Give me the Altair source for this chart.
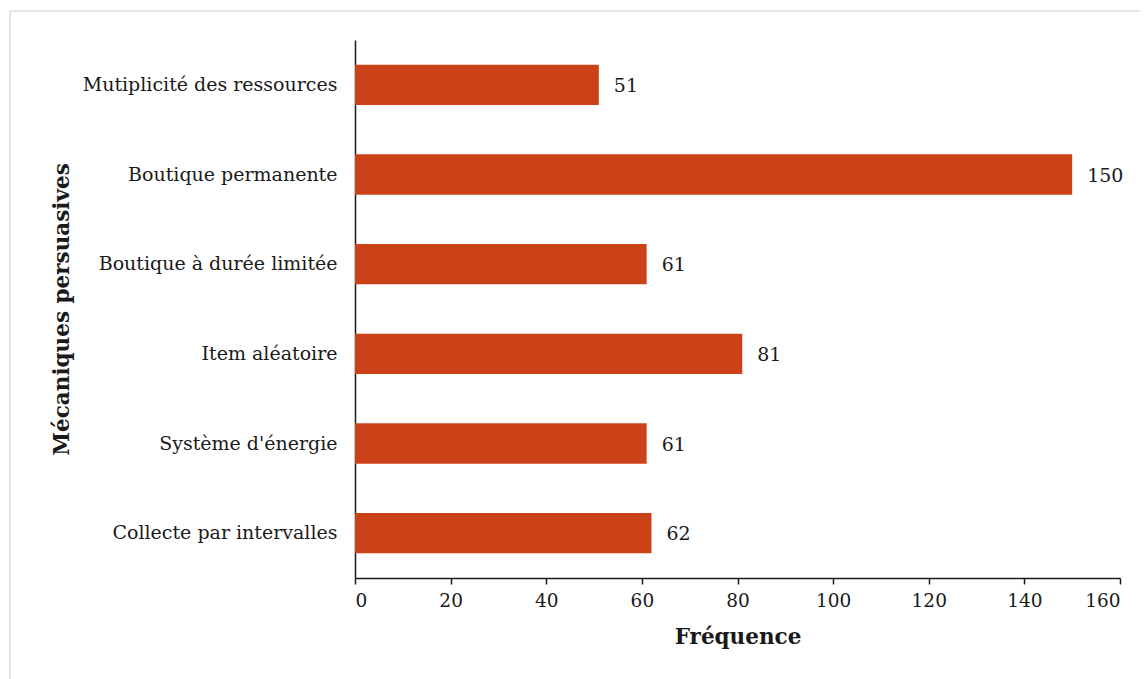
import altair as alt
import pandas as pd

categories = [
    "Mutiplicité des ressources",
    "Boutique permanente",
    "Boutique à durée limitée",
    "Item aléatoire",
    "Système d'énergie",
    "Collecte par intervalles",
]
values = [51, 150, 61, 81, 61, 62]

df = pd.DataFrame({"cat": categories, "val": values})

FONT = "DejaVu Serif"
TXT = "#1a1a1a"

x_enc = alt.X(
    "val:Q",
    title="Fréquence",
    scale=alt.Scale(domain=[0, 160], nice=False),
    axis=alt.Axis(
        values=[0, 20, 40, 60, 80, 100, 120, 140, 160],
        grid=False,
        tickSize=6,
        tickColor=TXT,
        domainColor=TXT,
        domainWidth=1.5,
        tickWidth=1.5,
        labelFont=FONT,
        labelFontSize=18.5,
        labelColor=TXT,
        labelPadding=7,
        titleFont=FONT,
        titleFontSize=21.5,
        titleFontWeight="bold",
        titleColor=TXT,
        titlePadding=17,
    ),
)
y_enc = alt.Y(
    "cat:N",
    title="Mécaniques persuasives",
    sort=categories,
    scale=alt.Scale(paddingInner=0.55, paddingOuter=0.275),
    axis=alt.Axis(
        ticks=False,
        domainColor=TXT,
        domainWidth=1.5,
        labelFont=FONT,
        labelFontSize=19,
        labelLimit=0,
        labelColor=TXT,
        labelPadding=18,
        titleFont=FONT,
        titleFontSize=21.5,
        titleFontWeight="bold",
        titleColor=TXT,
        titleAngle=-90,
        titleBaseline="middle",
        titleX=-293,
        titleY=269,
    ),
)

bars = alt.Chart(df).mark_bar(color="#CC4218").encode(x=x_enc, y=y_enc)
labels = alt.Chart(df).mark_text(
    align="left", baseline="middle", dx=15, dy=1, font=FONT, fontSize=19, color=TXT
).encode(x="val:Q", y=alt.Y("cat:N", sort=categories), text="val:Q")

frame = alt.Chart(df).mark_rect(
    fill=None, stroke="#dddddd", strokeWidth=1.5, clip=False
).encode(
    x=alt.value(-345), x2=alt.value(800), y=alt.value(-29), y2=alt.value(720)
).transform_filter(alt.datum.cat == categories[0])

chart = (
    alt.layer(frame, bars, labels)
    .properties(
        width=765,
        height=538,
        padding={"left": 347, "top": 32, "right": 20, "bottom": 105},
        autosize=alt.AutoSizeParams(type="none"),
    )
    .configure(background="white")
    .configure_view(stroke=None, strokeWidth=0)
)

chart.save("out.html", embed_options={"renderer": "svg", "actions": False})
